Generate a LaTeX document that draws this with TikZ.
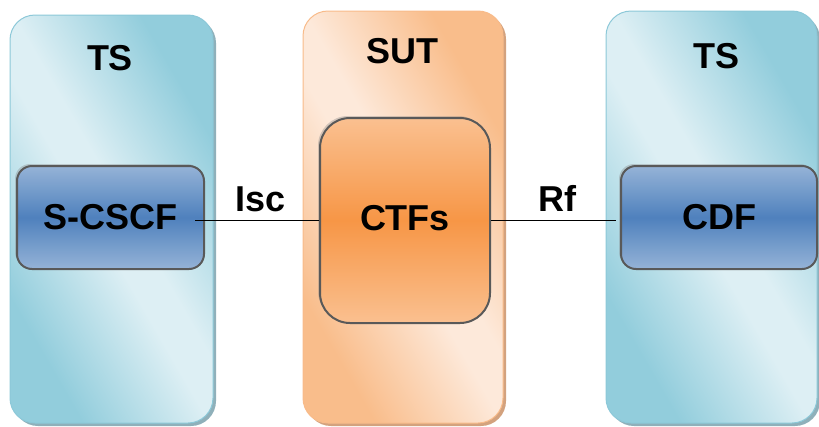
\documentclass[tikz,border=0pt]{standalone}
\usepackage{fontspec}
\setmainfont{Liberation Sans}
\usetikzlibrary{shadows}

\definecolor{tsdark}{HTML}{92CDDC}
\definecolor{tslight}{HTML}{DDEFF4}
\definecolor{tsline}{HTML}{8CC8D8}
\definecolor{tsshade}{HTML}{8FB0BA}
\definecolor{sutdark}{HTML}{F9BD8B}
\definecolor{sutlight}{HTML}{FDE9DA}
\definecolor{sutline}{HTML}{F8BB8A}
\definecolor{sutshade}{HTML}{D3A27E}
\definecolor{fnblue}{HTML}{4F81BD}
\definecolor{fnbluelight}{HTML}{95B3D7}
\definecolor{fnorange}{HTML}{F79646}
\definecolor{fnorangelight}{HTML}{FAC090}
\definecolor{fnline}{HTML}{595959}

\pgfdeclareverticalshading{tsfade}{100bp}{color(0bp)=(tsdark); color(27bp)=(tsdark);
    color(47bp)=(tslight); color(53bp)=(tslight); color(73bp)=(tsdark); color(100bp)=(tsdark)}
\pgfdeclareverticalshading{sutfade}{100bp}{color(0bp)=(sutdark); color(27bp)=(sutdark);
    color(47bp)=(sutlight); color(53bp)=(sutlight); color(73bp)=(sutdark); color(100bp)=(sutdark)}

\begin{document}
\begin{tikzpicture}[x=1pt, y=-1pt,
        every node/.style={font=\fontsize{36}{40}\selectfont\bfseries},
        testside/.style={rounded corners=25pt, draw=tsline, line width=1pt,
            shading=tsfade, shading angle=-60,
            drop shadow={shadow xshift=3pt, shadow yshift=-3pt, fill=tsshade, opacity=1}},
        sutside/.style={rounded corners=25pt, draw=sutline, line width=1pt,
            shading=sutfade, shading angle=-60,
            drop shadow={shadow xshift=3pt, shadow yshift=-3pt, fill=sutshade, opacity=1}},
        funcblue/.style={rounded corners=15pt, draw=fnline, line width=2pt,
            top color=fnbluelight, bottom color=fnbluelight, middle color=fnblue,
            drop shadow={shadow xshift=-2pt, shadow yshift=2pt, fill=gray, opacity=0.35}},
        funcorange/.style={rounded corners=30pt, draw=fnline, line width=2pt,
            top color=fnorangelight, bottom color=fnorangelight, middle color=fnorange,
            drop shadow={shadow xshift=-2pt, shadow yshift=2pt, fill=gray, opacity=0.35}},
        ifname/.style={inner sep=2pt, above=6pt}
    ]
        \useasboundingbox (0,0) rectangle (819,426);

        % test systems and system under test
        \node[testside, minimum width=203pt, minimum height=408pt] (tsleft) at (111.5,219) {};
        \node[sutside, minimum width=200pt, minimum height=412pt] (sut) at (403,217) {};
        \node[testside, minimum width=211pt, minimum height=412pt] (tsright) at (711.5,217) {};

        \node[anchor=base] (tslefttitle) at (110,70) {TS};
        \node[anchor=base] (suttitle) at (402,63) {SUT};
        \node[anchor=base] (tsrighttitle) at (716,68) {TS};

        % functions
        \node[funcblue, minimum width=187pt, minimum height=103pt] (scscf) at (110.5,217.5) {S-CSCF};
        \node[funcorange, minimum width=170pt, minimum height=205pt, text height=26pt, text depth=6pt] (ctfs) at (405,220.5) {CTFs};
        \node[funcblue, minimum width=196pt, minimum height=103pt] (cdf) at (719,217.5) {CDF};

        % interfaces
        \draw[line width=1.5pt] ([xshift=-10pt]scscf.east |- ctfs.west) -- node[ifname, pos=0.53] (isc) {Isc} (ctfs.west);
        \draw[line width=1.5pt] (ctfs.east) -- node[ifname, pos=0.53] (rf) {Rf} ([xshift=-4pt]cdf.west |- ctfs.east);

    \end{tikzpicture}
\end{document}
